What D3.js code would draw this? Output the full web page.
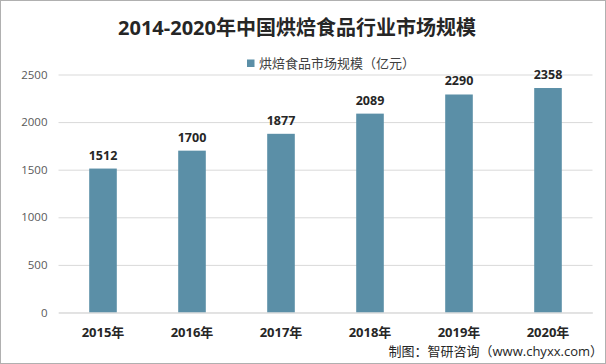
<!DOCTYPE html>
<html><head><meta charset="utf-8">
<script src="https://cdn.jsdelivr.net/npm/d3@7"></script>
<style>
html,body{margin:0;padding:0;background:#fff;}
svg{display:block;}
</style></head>
<body>
<svg id="chart" width="606" height="364"></svg>
<script>
const titleText = "2014-2020年中国烘焙食品行业市场规模";
const legendLabel = "烘焙食品市场规模（亿元）";
const sourceText = "制图：智研咨询（www.chyxx.com）";
const categories = ["2015年","2016年","2017年","2018年","2019年","2020年"];
const values = [1512,1700,1877,2089,2290,2358];
const yTicks = [0,500,1000,1500,2000,2500];

const W = 606, H = 364;
const margin = {left:58.5, right:13.5, top:74.5, bottom:51.5};
const svg = d3.select("#chart");
const fontCJK = "'Open Sans','Noto Sans CJK SC',sans-serif";
const barColor = "#5b8fa7";

svg.append("rect").attr("x",0.5).attr("y",0.5).attr("width",W-1).attr("height",H-1)
  .attr("fill","#fff").attr("stroke","#b0b0b0");

const x = d3.scaleBand().domain(categories).range([margin.left, W-margin.right]).paddingInner(0.69).paddingOuter(0.345);
const y = d3.scaleLinear().domain([0,2500]).range([H-margin.bottom, margin.top]);

// gridlines
const yAxis = d3.axisLeft(y).tickValues(yTicks).tickFormat(d3.format("d"))
  .tickSize(-(W-margin.left-margin.right)).tickPadding(11);
const gy = svg.append("g").attr("transform",`translate(${margin.left},0)`).call(yAxis);
gy.select(".domain").remove();
gy.selectAll(".tick line").attr("stroke","#d9d9d9");
gy.selectAll(".tick text").attr("fill","#595959").attr("font-size","11.5px").attr("font-family",fontCJK);

// bars
svg.append("g").selectAll("rect").data(values).join("rect")
  .attr("x",(d,i)=>x(categories[i]))
  .attr("width",x.bandwidth())
  .attr("y",d=>y(d))
  .attr("height",d=>y(0)-y(d))
  .attr("fill",barColor);

// value labels
svg.append("g").selectAll("text").data(values).join("text")
  .attr("x",(d,i)=>x(categories[i])+x.bandwidth()/2)
  .attr("y",d=>y(d)-9)
  .attr("text-anchor","middle")
  .attr("font-family",fontCJK).attr("font-weight","bold").attr("font-size","12.5px")
  .attr("fill","#262626").text(d=>d);

// x axis
const xAxis = d3.axisBottom(x).tickSize(0).tickPadding(0);
const gx = svg.append("g").attr("transform",`translate(0,${y(0)})`).call(xAxis);
gx.select(".domain").attr("stroke","#d9d9d9");
gx.selectAll(".tick text").attr("dy","0").attr("y",24.5)
  .attr("font-family",fontCJK).attr("font-weight","bold").attr("font-size","13px").attr("fill","#262626");

// title
svg.append("text").attr("x",297).attr("y",35).attr("text-anchor","middle")
  .attr("font-family",fontCJK).attr("font-weight","bold").attr("font-size","20px")
  .attr("fill","#262626").text(titleText);

// legend
svg.append("rect").attr("x",247).attr("y",59.5).attr("width",7.5).attr("height",7.5).attr("fill",barColor);
svg.append("text").attr("x",259).attr("y",67.5)
  .attr("font-family",fontCJK).attr("font-size","13px").attr("fill","#404040").text(legendLabel);

// source
svg.append("text").attr("x",603).attr("y",356).attr("text-anchor","end")
  .attr("font-family",fontCJK).attr("font-size","13px").attr("fill","#262626").text(sourceText);
</script>
</body></html>
